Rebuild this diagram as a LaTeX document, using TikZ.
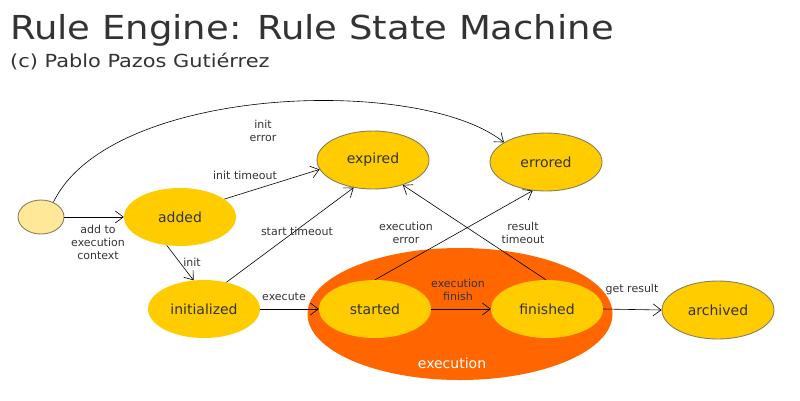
\documentclass[tikz,border=0pt]{standalone}
\usepackage{fontspec}
\setmainfont{DejaVu Sans}
\usetikzlibrary{arrows.meta,shapes.geometric}
\definecolor{txt}{HTML}{333333}
\definecolor{stfill}{HTML}{FFCC00}
\definecolor{inifill}{HTML}{FFE898}
\definecolor{bord}{HTML}{8A7E5A}
\definecolor{execfill}{HTML}{FF6600}
\begin{document}
\begin{tikzpicture}[x=1pt,y=-1pt,
  st/.style={ellipse,fill=stfill,minimum width=112pt,minimum height=58pt,inner sep=0pt,font=\fontsize{14}{16}\selectfont,text=txt},
  stb/.style={st,draw=bord,line width=0.9pt},
  lbl/.style={font=\fontsize{11}{13}\selectfont,text=txt,align=center},
  arr/.style={draw=black,line width=0.6pt,-{Straight Barb[length=8pt,width=12pt,line width=0.6pt]}}]
\useasboundingbox (0,0) rectangle (800,400);
\node[anchor=base west,inner sep=0pt,text=txt,font=\fontsize{33}{36}\selectfont] (title) at (10,39) {\scalebox{1.12}[1]{Rule Engine: Rule State Machine}};
\node[anchor=base west,inner sep=0pt,text=txt,font=\fontsize{18}{20}\selectfont] (sub) at (10,67) {\scalebox{1.16}[1]{(c) Pablo Pazos Gutiérrez}};
% execution group
\node[ellipse,fill=execfill,minimum width=305pt,minimum height=132pt,inner sep=0pt] (exec) at (460,314) {};
\node[font=\fontsize{14}{16}\selectfont,text=white] (execlbl) at (452,363) {execution};
% states
\node[ellipse,fill=inifill,draw=bord,line width=0.9pt,minimum width=46pt,minimum height=34pt,inner sep=0pt] (init) at (41,217) {};
\node[st] (added) at (180,217) {added};
\node[st] (initialized) at (204,309) {initialized};
\node[stb] (expired) at (373,160) {expired};
\node[stb] (errored) at (546,162) {errored};
\node[st] (started) at (375,309) {started};
\node[st] (finished) at (547,309) {finished};
\node[stb] (archived) at (718,310) {archived};
% edges
\draw[arr] (init.east) -- (added.west);
\node[lbl] (l1) at (98,242) {add to\\execution\\context};
\draw[arr] (added.-115) -- (initialized.110);
\node[lbl] (l2) at (192,262) {init};
\draw[arr] (added.22) -- (expired.190);
\node[lbl] (l3) at (245,175) {init timeout};
\draw[arr] (initialized.50) -- (expired.235);
\node[lbl] (l4) at (297,231) {start timeout};
\draw[arr] (initialized.east) -- (started.west);
\node[lbl] (l5) at (284,297) {execute};
\draw[arr] (started.east) -- (finished.west);
\node[lbl] (l6) at (458,290) {execution\\finish};
\draw[arr] (finished.east) -- (archived.west);
\node[lbl] (l7) at (632,289) {get result};
\draw[arr] (started.90) -- (errored.245);
\node[lbl] (l8) at (406,233) {execution\\error};
\draw[arr] (finished.92) -- (expired.-40);
\node[lbl] (l9) at (523,233) {result\\timeout};
\draw[arr] (init.50) .. controls (110,85) and (420,75) .. (errored.155);
\node[lbl] (l10) at (263,131) {init\\error};
\end{tikzpicture}
\end{document}
